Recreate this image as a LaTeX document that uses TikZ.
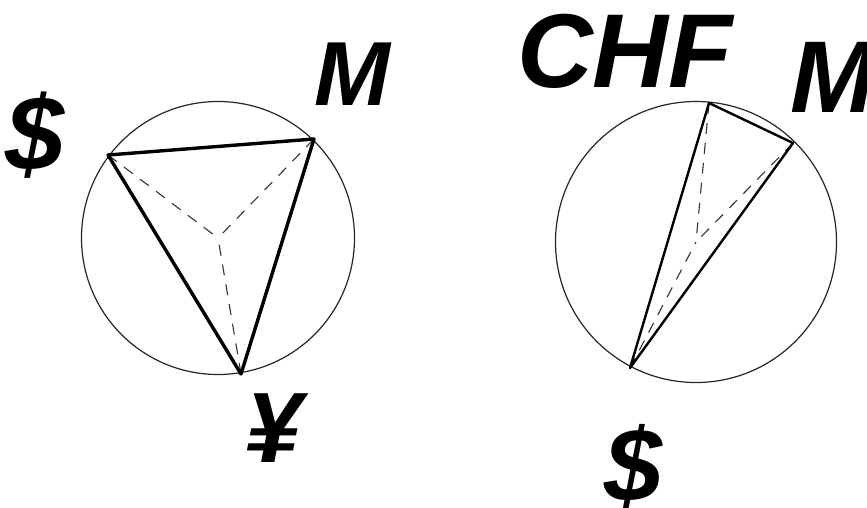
\documentclass[tikz,border=0pt]{standalone}
\usepackage{fontspec}
\setmainfont{Liberation Sans}
\begin{document}
\begin{tikzpicture}[x=1pt,y=-1pt,
  ring/.style={draw=black!85, line width=1.2pt},
  edgeA/.style={draw=black, line width=3.4pt, line join=round},
  edgeB/.style={draw=black, line width=2.4pt, line join=round},
  spoke/.style={draw=black!80, line width=1.1pt, dash pattern=on 11pt off 9pt},
  lbl/.style={inner sep=0pt, font=\bfseries\itshape}]
\useasboundingbox[fill=white] (0,0) rectangle (867,507);
% left circle
\coordinate (c1) at (218,238);
\draw[ring] (c1) circle (136.5);
\coordinate (d1) at (108,155);
\coordinate (m1) at (314,139);
\coordinate (y1) at (241,374);
\draw[spoke] (d1) -- (c1);
\draw[spoke] (m1) -- (c1);
\draw[spoke] (y1) -- (c1);
\draw[edgeA] (d1) -- (m1) -- (y1) -- cycle;
% right circle
\coordinate (c2) at (696,242);
\draw[ring] (c2) circle (140.5);
\coordinate (h2) at (709,103);
\coordinate (m2) at (793,143);
\coordinate (d2) at (630,368);
\draw[spoke] (h2) -- (c2);
\draw[spoke] (m2) -- (c2);
\draw[spoke] (d2) -- (c2);
\draw[edgeB] (h2) -- (m2) -- (d2) -- cycle;
% labels
\node[lbl, font=\fontsize{106}{106}\selectfont\bfseries\itshape] (ldollar) at (35,135) {\$};
\node[lbl, font=\fontsize{91}{91}\selectfont\bfseries\itshape] (lM) at (352,74) {M};
\node[lbl, font=\fontsize{100}{100}\selectfont\bfseries\itshape] (yen) at (273,428) {¥};
\node[lbl, font=\fontsize{105}{105}\selectfont\bfseries\itshape] (chf) at (625,51) {CHF};
\node[lbl, font=\fontsize{102}{102}\selectfont\bfseries\itshape, anchor=west] (rM) at (790,77) {M};
\node[lbl, font=\fontsize{104}{104}\selectfont\bfseries\itshape] (rdollar) at (633,467) {\$};
\end{tikzpicture}
\end{document}
